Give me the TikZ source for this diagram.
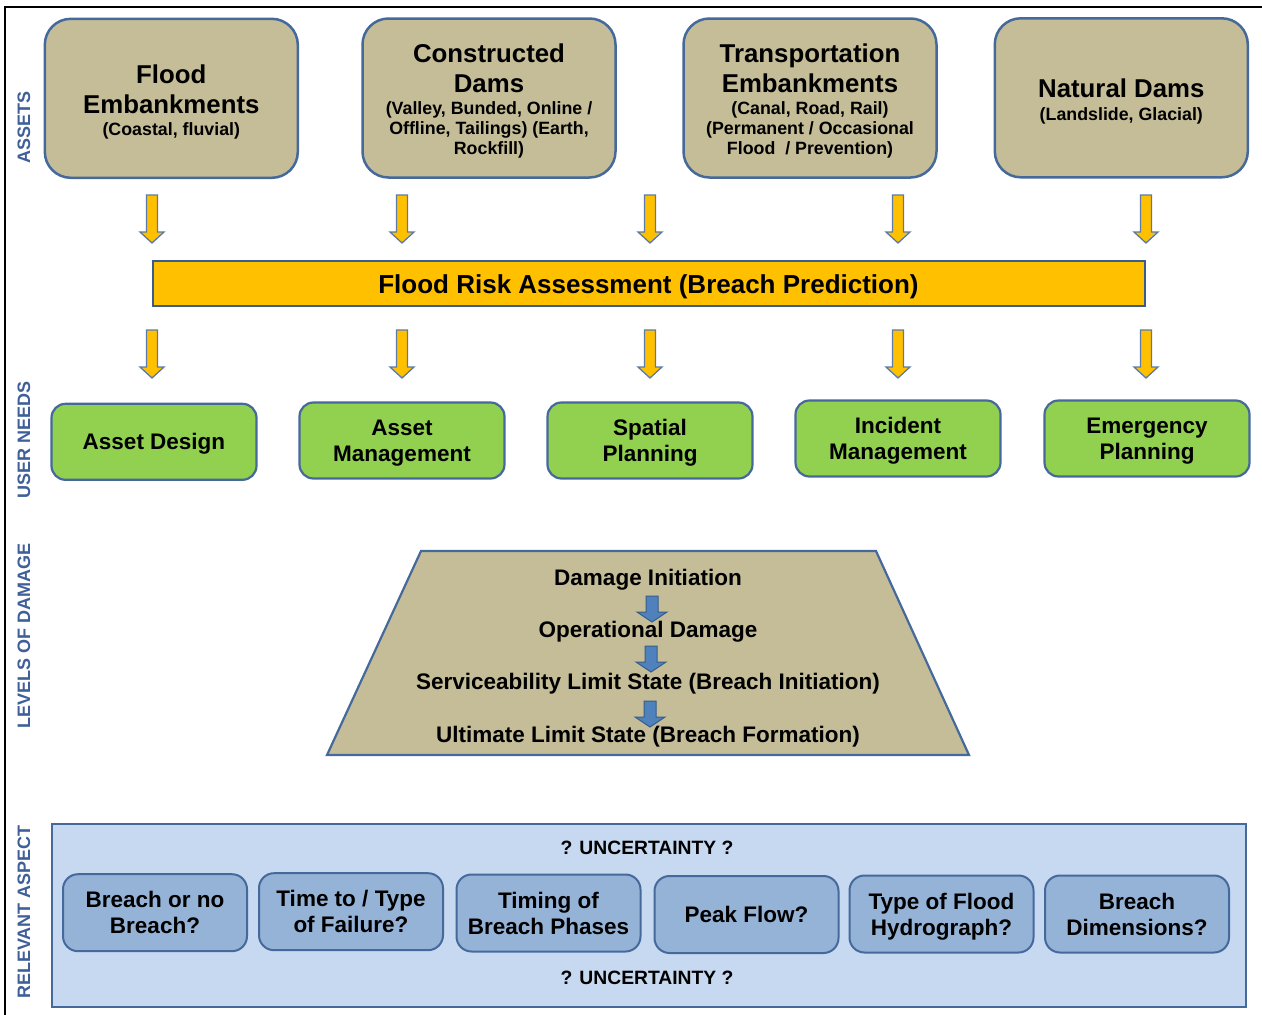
\documentclass[tikz,border=0pt]{standalone}
\usepackage{fontspec}
\setmainfont{Liberation Sans}
\definecolor{tanfill}{HTML}{C4BD97}
\definecolor{boxedge}{HTML}{46699C}
\definecolor{baredge}{HTML}{385D8A}
\definecolor{goldfill}{HTML}{FFC000}
\definecolor{arrowedge}{HTML}{5B7BA6}
\definecolor{greenfill}{HTML}{92D050}
\definecolor{panelfill}{HTML}{C6D9F1}
\definecolor{qfill}{HTML}{95B3D7}
\definecolor{lblblue}{HTML}{3E5F98}
\definecolor{barrowfill}{HTML}{4F81BD}
\newcommand\myTitleFont{\fontsize{25.8}{30}\selectfont\bfseries}
\newcommand\mySubFont{\fontsize{17.8}{20}\selectfont\bfseries}
\newcommand\myMidFont{\fontsize{22.5}{26}\selectfont\bfseries}
\newcommand\myBarFont{\fontsize{26}{30}\selectfont\bfseries}
\newcommand\myLblFont{\fontsize{18}{20}\selectfont\bfseries}
\newcommand\myTopStrut{\rule{0pt}{21.6pt}}
\begin{document}
\begin{tikzpicture}[x=1pt,y=-1pt,
  assetbox/.style={draw=boxedge, line width=2.5pt, fill=tanfill, rounded corners=26pt,
    minimum width=253pt, minimum height=159pt, align=center, inner sep=0pt,
    font=\myTitleFont, text depth=0pt},
  needbox/.style={draw=boxedge, line width=2.2pt, fill=greenfill, rounded corners=14pt,
    minimum width=205pt, minimum height=76pt, align=center, inner sep=0pt,
    font=\myMidFont, text depth=0pt},
  qbox/.style={draw=boxedge, line width=2pt, fill=qfill, rounded corners=15pt,
    minimum width=184pt, minimum height=77pt, align=center, inner sep=0pt,
    font=\myMidFont, text depth=0pt},
  panelbox/.style={draw=boxedge, line width=2pt, fill=panelfill,
    minimum width=1194pt, minimum height=183pt, inner sep=0pt},
  riskbar/.style={draw=baredge, line width=2pt, fill=goldfill,
    minimum width=992pt, minimum height=45pt, inner sep=0pt, font=\myBarFont, text depth=0pt},
  trapshape/.style={draw=boxedge, line width=2.2pt, fill=tanfill, line join=miter},
  dmgtext/.style={font=\myMidFont, anchor=base, inner sep=0pt},
  unctext/.style={font=\fontsize{19.3}{22}\selectfont\bfseries, inner sep=0pt},
  sidelabel/.style={rotate=90, text=lblblue, font=\myLblFont, inner sep=0pt},
  yarrow/.pic={\draw[fill=goldfill, draw=arrowedge, line width=1.3pt, line join=miter]
    (-5.5,0) -- (5.5,0) -- (5.5,37) -- (12,37) -- (0,48) -- (-12,37) -- (-5.5,37) -- cycle;},
  barrow/.pic={\draw[fill=barrowfill, draw=baredge, line width=1pt, line join=miter]
    (-6,0) -- (6,0) -- (6,16) -- (15,16) -- (0,26) -- (-15,16) -- (-6,16) -- cycle;}
]
\useasboundingbox (0,0) rectangle (1262,1015);
% frame
\draw[line width=2.5pt] (5,1015) -- (5,7) -- (1262,7);

% side labels
\node[sidelabel] (lab-assets) at (24,127.5) {ASSETS};
\node[sidelabel] (lab-needs) at (24,440) {USER NEEDS};
\node[sidelabel] (lab-damage) at (24,636) {LEVELS OF DAMAGE};
\node[sidelabel] (lab-aspect) at (24,912) {RELEVANT ASPECT};

% assets
\node[assetbox] (fe) at (171.3,98.3) {\myTopStrut Flood\\Embankments\\[-8pt]{\mySubFont (Coastal, fluvial)}};
\node[assetbox] (cd) at (489,98) {\myTopStrut Constructed\\Dams\\[-8pt]{\mySubFont (Valley, Bunded, Online /}\\[-10pt]{\mySubFont Offline, Tailings) (Earth,}\\[-10pt]{\mySubFont Rockfill)}};
\node[assetbox] (te) at (810,98) {\myTopStrut Transportation\\Embankments\\[-8pt]{\mySubFont (Canal, Road, Rail)}\\[-10pt]{\mySubFont (Permanent / Occasional}\\[-10pt]{\mySubFont Flood\ \ / Prevention)}};
\node[assetbox] (nd) at (1121.3,97.8) {\rule{0pt}{23pt}Natural Dams\\[-7pt]{\mySubFont (Landslide, Glacial)}};

% yellow arrows
\foreach \xx in {152,402,650,898,1146} {
  \pic at (\xx,195) {yarrow};
  \pic at (\xx,330) {yarrow};
}

% risk bar
\node[riskbar] (fra) at (648.5,283.7) {Flood Risk Assessment (Breach Prediction)};

% user needs
\node[needbox] (un1) at (154,441.8) {Asset Design};
\node[needbox] (un2) at (402,440.5) {Asset\\Management};
\node[needbox] (un3) at (650,440.5) {Spatial\\Planning};
\node[needbox] (un4) at (898,438.5) {Incident\\Management};
\node[needbox] (un5) at (1147,438.5) {Emergency\\Planning};

% levels of damage
\coordinate (tp-tl) at (421,551);
\coordinate (tp-tr) at (876,551);
\coordinate (tp-br) at (969,755);
\coordinate (tp-bl) at (327,755);
\draw[trapshape] (tp-tl) -- (tp-tr) -- (tp-br) -- (tp-bl) -- cycle;
\node[dmgtext] (d1) at (648,585) {Damage Initiation};
\node[dmgtext] (d2) at (648,637) {Operational Damage};
\node[dmgtext] (d3) at (648,689) {Serviceability Limit State (Breach Initiation)};
\node[dmgtext] (d4) at (648,742) {Ultimate Limit State (Breach Formation)};
\pic at (652,596) {barrow};
\pic at (651,646) {barrow};
\pic at (650,701) {barrow};

% relevant aspect
\node[panelbox] (panel) at (648.5,915) {};
\node[unctext] (unc1) at (647,848) {? UNCERTAINTY ?};
\node[unctext] (unc2) at (647,978) {? UNCERTAINTY ?};
\node[qbox] (q1) at (155,912.7) {Breach or no\\Breach?};
\node[qbox] (q2) at (351,911.7) {Time to / Type\\of Failure?};
\node[qbox] (q3) at (548.5,913) {Timing of\\Breach Phases};
\node[qbox] (q4) at (746.5,914.5) {Peak Flow?};
\node[qbox] (q5) at (941.5,914) {Type of Flood\\Hydrograph?};
\node[qbox] (q6) at (1137,914) {Breach\\Dimensions?};
\end{tikzpicture}
\end{document}
